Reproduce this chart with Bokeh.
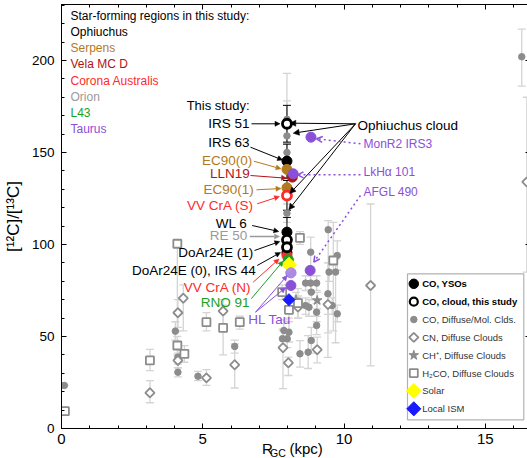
from bokeh.plotting import figure
from bokeh.models import (ColumnDataSource, Whisker, TeeHead, Arrow, NormalHead, OpenHead,
                          Label, LinearAxis, FixedTicker, BoxAnnotation, Range1d)
from bokeh.embed import file_html
from bokeh.resources import INLINE

FONT = "Liberation Sans"

# ---------------- data ----------------
# CO, diffuse / molecular clouds (filled grey dots)
co_r  = [0.10, 4.03, 4.12, 4.12, 4.83, 6.13, 7.98, 7.98, 7.98, 7.98, 7.87, 7.82, 7.99, 8.05,
         8.44, 8.73, 8.84, 8.82, 9.44, 9.76, 9.47, 9.70, 8.64, 8.82, 9.03, 8.84, 9.43, 9.58,
         8.64, 8.76, 9.03, 9.76, 9.03, 16.29]
co_v  = [23.4, 52.9, 38.8, 30.6, 28.4, 44.6, 168, 159, 150, 117, 53.3, 48.8, 48.8, 52.3,
         40.6, 41.5, 47.8, 95.8, 108, 94, 85, 85, 79, 79, 79, 74.1, 73.2, 66.8,
         66.8, 65.9, 63.2, 62.3, 56, 202]
co_lo = [23.4, 48, 35, 28, 26, 41, 143, 140, 145, 112, 48, 44, 44, 47,
         33.3, 32.6, 41, 88, 52, 86, 80, 46.6, 75, 75, 75, 70, 38.7, 62,
         62, 61, 58, 58, 51, 186]
co_hi = [23.4, 58, 43, 33, 31, 48, 193, 178, 155, 122, 59, 54, 54, 58,
         47.8, 50.5, 55, 104, 113, 102, 90, 92, 83, 83, 83, 78, 90, 71,
         71, 70, 68, 67, 61, 217]

# CN, diffuse clouds (open grey diamonds)
cn_r  = [3.13, 4.12, 4.12, 4.31, 5.13, 5.72, 6.13, 7.84, 8.03, 9.05, 8.37, 9.43, 10.94, 16.47]
cn_v  = [19.4, 37.0, 62.9, 70.8, 27.5, 63.8, 34.6, 43.9, 35.7, 42.8, 66.0, 67.4, 77.7, 134]
cn_lo = [14, 33, 55, 53, 23.4, 56, 22, 21.7, 28.8, 35.7, 60, 62, 34, 85]
cn_hi = [26, 41, 70, 78, 32, 70, 46, 53, 38.8, 49.6, 72, 73, 122, 180]

# CH+, diffuse clouds (grey stars)
ch_r  = [9.05, 8.30]
ch_v  = [69.6, 70.0]
ch_lo = [65, 66]
ch_hi = [74, 74]

# H2CO, diffuse clouds (open grey squares)
h2_r  = [0.12, 3.13, 4.10, 4.10, 4.35, 5.13, 5.72, 6.31, 7.81, 8.05, 8.37, 8.44, 9.62]
h2_v  = [9.4, 37.0, 100.4, 45.1, 40.6, 57.8, 54.7, 57.8, 74.1, 64.5, 68.1, 103.6, 91.3]
h2_lo = [9.4, 31.5, 53, 40, 36, 53, 40, 54, 70, 60, 60, 100, 53]
h2_hi = [9.4, 43, 100.4, 50, 45, 63, 67, 61, 78, 69, 76, 107, 112]

# This study: CO toward YSOs (filled)
OPH, SER, VELA, CRA, ORI, L43C, TAU = "#000000", "#b27a1e", "#b01414", "#ff2a2a", "#9a9a9a", "#1e9e1e", "#8a50d8"
LAV = "#a98be6"
yso_name  = ["IRS 63", "EC90(0)", "LLN19", "EC90(1)", "WL 6", "DoAr24E (0), IRS 44",
             "VV CrA (N)", "RNO 91", "MonR2 IRS3", "LkHα 101", "HL Tau", "HL Tau", "AFGL 490"]
yso_r     = [7.98, 7.98, 8.17, 7.98, 7.98, 7.98, 7.98, 8.03, 8.83, 8.20, 8.12, 8.12, 8.80]
yso_v     = [145.3, 140.8, 136.6, 130.8, 106.7, 95.5, 94.0, 91.7, 158.3, 138.4, 84.6, 77.7, 85.9]
yso_color = [OPH, SER, VELA, SER, OPH, OPH, CRA, L43C, TAU, TAU, LAV, TAU, TAU]

# This study: CO toward the cloud (open)
cld_name  = ["IRS 51", "VV CrA (S)", "RE 50", "DoAr24E (1)"]
cld_r     = [7.98, 7.98, 7.98, 7.98]
cld_v     = [165.6, 126.6, 102.5, 98.5]
cld_color = [OPH, CRA, OPH, OPH]

# error bars of this study
err_r  = [7.98, 7.98, 7.98, 7.98]
err_lo = [155.6, 136.0, 118.6, 99.0]
err_hi = [175.6, 154.5, 134.8, 114.7]

# Solar and local ISM
sol_r, sol_v = [8.05], [89.0]
ism_r, ism_v = [8.05], [70.0]

x_ticks = [0, 5, 10, 15]
y_ticks = [0, 50, 100, 150, 200]

# ---------------- layout ----------------
L, T = 61, 4
FW, FH = 469, 424
X_END = 16.6
Y_END = 230.4
PXX = FW / X_END
PYY = FH / Y_END
BOT = T + FH   # pixel row of the x axis


def dx(px):
    return (px - L) / PXX


def dy(py):
    return (BOT - py) / PYY


p = figure(frame_width=FW, frame_height=FH, x_range=Range1d(0, X_END), y_range=Range1d(0, Y_END),
           output_backend="svg", toolbar_location=None,
           min_border_left=L, min_border_right=0, min_border_top=T, min_border_bottom=0)
p.grid.visible = False
p.outline_line_color = "black"
p.outline_line_width = 1
p.background_fill_color = "white"
p.border_fill_color = "white"

for ax in p.xaxis:
    ax.ticker = FixedTicker(ticks=x_ticks, minor_ticks=list(range(0, 17)))
    ax.major_label_text_font_size = "15px"
    ax.major_label_standoff = 5
    ax.axis_label = None
for ax in p.yaxis:
    ax.ticker = FixedTicker(ticks=y_ticks, minor_ticks=list(range(0, 231, 10)))
    ax.major_label_text_font_size = "13.5px"
    ax.major_label_standoff = 7
    ax.axis_label = "[¹²C]/[¹³C]"
    ax.axis_label_text_font_size = "17px"
    ax.axis_label_text_font_style = "normal"
    ax.axis_label_standoff = 6

top = LinearAxis(ticker=FixedTicker(ticks=x_ticks, minor_ticks=list(range(0, 17))),
                 major_label_overrides={t: "" for t in x_ticks}, major_label_standoff=0)
right = LinearAxis(ticker=FixedTicker(ticks=y_ticks, minor_ticks=list(range(0, 231, 10))),
                   major_label_overrides={t: "" for t in y_ticks}, major_label_standoff=0)
p.add_layout(top, "above")
p.add_layout(right, "right")

for ax in p.axis:
    ax.major_tick_in = 5
    ax.major_tick_out = 0
    ax.minor_tick_in = 3
    ax.minor_tick_out = 0
    ax.axis_line_color = "black"
    ax.major_tick_line_color = "black"
    ax.minor_tick_line_color = "black"
    ax.major_label_text_font = FONT
    ax.major_label_text_color = "black"
    ax.axis_label_text_font = FONT
    ax.axis_label_text_color = "black"

# x-axis title "R_GC (kpc)": written as tick labels of two bare axes stacked below
R_AT, KPC_AT, GC_AT = round(dx(266.9), 3), round(dx(305.7), 3), round(dx(277.4), 3)
title_main = LinearAxis(ticker=FixedTicker(ticks=[R_AT, KPC_AT], minor_ticks=[]),
                        major_label_overrides={R_AT: "R", KPC_AT: "(kpc)"},
                        major_label_standoff=-7, major_tick_in=0, major_tick_out=0,
                        minor_tick_in=0, minor_tick_out=0, axis_line_alpha=0,
                        major_label_text_font=FONT, major_label_text_font_size="15px",
                        major_label_text_color="black", axis_label=None)
title_sub = LinearAxis(ticker=FixedTicker(ticks=[GC_AT], minor_ticks=[]),
                       major_label_overrides={GC_AT: "GC"},
                       major_label_standoff=-13, major_tick_in=0, major_tick_out=0,
                       minor_tick_in=0, minor_tick_out=0, axis_line_alpha=0,
                       major_label_text_font=FONT, major_label_text_font_size="10.5px",
                       major_label_text_color="black", axis_label=None)
p.add_layout(title_main, "below")
p.add_layout(title_sub, "below")

EB = "#d4d4d4"
GREY = "#8c8c8c"


def whiskers(r, lo, hi, color, width=1.3, cap=8):
    src = ColumnDataSource(dict(r=r, lo=lo, hi=hi))
    w = Whisker(source=src, base="r", lower="lo", upper="hi", dimension="height",
                line_color=color, line_width=width,
                upper_head=TeeHead(size=cap, line_color=color, line_width=width),
                lower_head=TeeHead(size=cap, line_color=color, line_width=width))
    w.level = "underlay"
    p.add_layout(w)


whiskers(co_r, co_lo, co_hi, EB)
whiskers(cn_r, cn_lo, cn_hi, EB)
whiskers(ch_r, ch_lo, ch_hi, EB)
whiskers(h2_r, h2_lo, h2_hi, EB)
whiskers(err_r, err_lo, err_hi, "black", width=1.0, cap=8)

# grey literature values
p.scatter(co_r, co_v, marker="circle", size=6.5, fill_color=GREY, line_color=GREY)
p.scatter(cn_r, cn_v, marker="square", angle=0.7854, size=6.5, fill_color="white",
          line_color=GREY, line_width=1.8)
p.scatter(ch_r, ch_v, marker="star", size=10, fill_color=GREY, line_color=GREY)
p.scatter(h2_r, h2_v, marker="square", size=8, fill_color="white", line_color=GREY,
          line_width=1.8)

# this study
ys = ColumnDataSource(dict(r=yso_r, v=yso_v, c=yso_color, name=yso_name))
p.scatter("r", "v", source=ys, marker="circle", size=10, fill_color="c", line_color="c")
cs = ColumnDataSource(dict(r=cld_r, v=cld_v, c=cld_color, name=cld_name))
p.scatter("r", "v", source=cs, marker="circle", size=9, fill_color="white", line_color="c",
          line_width=2.8)
p.scatter(sol_r, sol_v, marker="square", angle=0.7854, size=10.5, fill_color="#ffff00",
          line_color="#ffff00")
p.scatter(ism_r, ism_v, marker="square", angle=0.7854, size=8.5, fill_color="#1a1aff",
          line_color="#1a1aff")
# HL Tau drawn again on top of the solar diamond
p.scatter([yso_r[10]], [yso_v[10]], marker="circle", size=10, fill_color=LAV, line_color=LAV,
          fill_alpha=0.9)


def lab(text, px, py, color="black", size="13.5px", align="right"):
    p.add_layout(Label(x=dx(px), y=dy(py), text=text, text_color=color, text_font=FONT,
                       text_font_size=size, text_align=align, text_baseline="middle"))


def arr(x0, y0, x1, y1, color="black", dash="solid", head=5, width=1.0, open_head=False):
    if open_head:
        end = OpenHead(size=head, line_color=color, line_width=width)
    else:
        end = NormalHead(size=head, fill_color=color, line_color=color, line_width=0.5)
    p.add_layout(Arrow(end=end, x_start=dx(x0), y_start=dy(y0), x_end=dx(x1), y_end=dy(y1),
                       line_color=color, line_width=width, line_dash=dash))


# annotations for this study
lab("This study:", 249, 105, size="13px")
lab("IRS 51", 249, 123.3);            arr(251, 123.3, 279.5, 123.3)
lab("IRS 63", 249, 141.7);            arr(250, 146.7, 282, 159.5)
lab("EC90(0)", 251.7, 160, SER);      arr(253.3, 160.7, 280.5, 168.3, SER)
lab("LLN19", 249.3, 172.7, VELA);     arr(250, 175, 286, 177.7, VELA)
lab("EC90(1)", 253.3, 189.3, SER);    arr(256, 189.3, 280.5, 188, SER)
lab("VV CrA (S)", 253.3, 205, CRA);   arr(256.7, 203.3, 279, 196, CRA)
lab("WL 6", 246.7, 222.7);            arr(251.7, 225, 278.3, 231)
lab("RE 50", 246.7, 235, ORI);        arr(249.3, 236, 279, 236, ORI, width=1.5)
lab("DoAr24E (1)", 252.7, 251.7);     arr(254, 250, 279.3, 241)
lab("DoAr24E (0), IRS 44", 255.3, 270); arr(256.7, 265, 280, 252)
lab("VV CrA (N)", 250.7, 287.3, CRA); arr(252.7, 281.7, 278.5, 258.5, CRA)
lab("RNO 91", 249, 301.7, L43C);      arr(250.7, 298.3, 282.7, 260.5, L43C)
lab("HL Tau", 247.7, 319.3, TAU, align="left")
arr(255, 311.7, 286.7, 275, TAU)
arr(255, 311.7, 285, 287.3, TAU)

lab("Ophiuchus cloud", 357, 125, align="left")
for ex, ey in [(289.3, 122.7), (292.7, 132.7), (289.3, 193), (288.3, 209.3)]:
    arr(355, 123.3, ex, ey, head=6)

lab("MonR2 IRS3", 363, 143, TAU, size="12px", align="left")
arr(360, 143.3, 316, 138.3, TAU, dash="2 3", head=6, width=1.5, open_head=True)
lab("LkHα 101", 363, 171, TAU, size="12px", align="left")
arr(360, 174.3, 297, 174.3, TAU, dash="2 3", head=6, width=1.5, open_head=True)
lab("AFGL 490", 363, 191, TAU, size="12px", align="left")
arr(360, 195, 313.3, 261.7, TAU, dash="2 3", head=6, width=1.5, open_head=True)

# star-forming regions key (upper left)
regions = ["Star-forming regions in this study:", "Ophiuchus", "Serpens", "Vela MC D",
           "Corona Australis", "Orion", "L43", "Taurus"]
reg_col = ["black", OPH, SER, VELA, CRA, ORI, L43C, TAU]
reg_y = [15, 31, 47.5, 63.5, 80, 96.5, 112, 128]
for t, c, yy in zip(regions, reg_col, reg_y):
    lab(t, 70, yy, c, size="12px", align="left")

# symbol key (lower right)
box = BoxAnnotation(left=dx(407), right=dx(523.3), bottom=dy(419.3), top=dy(273.3),
                    fill_color="white", fill_alpha=1, line_color="black", line_width=1.2,
                    level="underlay")
p.add_layout(box)
key_text = ["CO, YSOs", "CO, cloud, this study", "CO, Diffuse/Mol. Clds.", "CN, Diffuse Clouds",
            "CH⁺, Diffuse Clouds", "H₂CO, Diffuse Clouds", "Solar", "Local ISM"]
key_y = [283.3 + i * 17.86 for i in range(8)]
kx = dx(413.3)
p.scatter([kx], [dy(key_y[0])], marker="circle", size=9.5, fill_color="black", line_color="black")
p.scatter([kx], [dy(key_y[1])], marker="circle", size=8, fill_color="white", line_color="black",
          line_width=2.2)
p.scatter([kx], [dy(key_y[2])], marker="circle", size=6.5, fill_color=GREY, line_color=GREY)
p.scatter([kx], [dy(key_y[3])], marker="square", angle=0.7854, size=6.5, fill_color="white",
          line_color=GREY, line_width=1.8)
p.scatter([kx], [dy(key_y[4])], marker="star", size=10, fill_color=GREY, line_color=GREY)
p.scatter([kx], [dy(key_y[5])], marker="square", size=8, fill_color="white", line_color=GREY,
          line_width=1.8)
p.scatter([kx], [dy(key_y[6])], marker="square", angle=0.7854, size=10.5, fill_color="#ffff00",
          line_color="#ffff00")
p.scatter([kx], [dy(key_y[7])], marker="square", angle=0.7854, size=10, fill_color="#1a1aff",
          line_color="#1a1aff")
for i, (t, yy) in enumerate(zip(key_text, key_y)):
    p.add_layout(Label(x=dx(421.7), y=dy(yy), text=t, text_font=FONT, text_font_size="9.5px",
                       text_font_style="bold" if i < 2 else "normal",
                       text_color="black" if i < 2 else "#333333",
                       text_align="left", text_baseline="middle"))

open("out.html", "w").write(file_html(p, INLINE))
